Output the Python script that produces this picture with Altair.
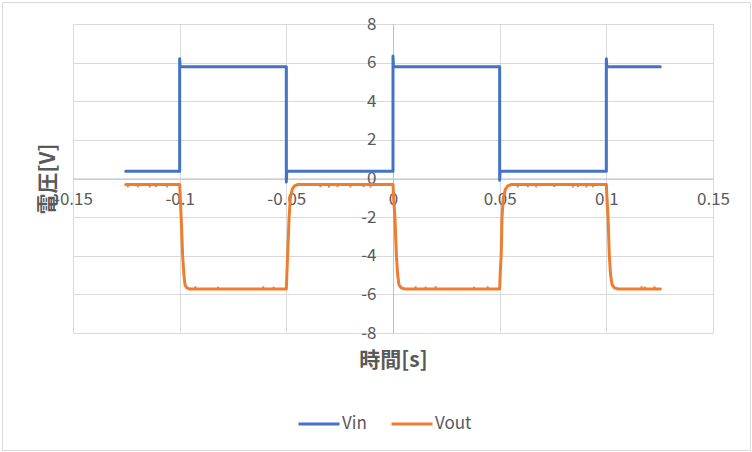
import altair as alt
import pandas as pd

# ---- data ----
t_in = [-0.1253, -0.1001, -0.1000, -0.1000, -0.0998, -0.0502, -0.0500, -0.0500, -0.0498,
        -0.0002, 0.0000, 0.0000, 0.0002, 0.0498, 0.0500, 0.0500, 0.0502,
        0.0998, 0.1000, 0.1000, 0.1002, 0.1253]
v_in = [0.38, 0.38, 0.38, 6.20, 5.79, 5.79, 5.79, -0.18, 0.38,
        0.38, 0.38, 6.34, 5.79, 5.79, 5.79, -0.09, 0.38,
        0.38, 0.38, 6.20, 5.79, 5.79]

t_out = [-0.1253, -0.1000, -0.0997, -0.0993, -0.0986, -0.0980, -0.0975, -0.0968, -0.0955,
         -0.0500, -0.0497, -0.0494, -0.0487, -0.0481, -0.0472, -0.0462, -0.0445,
         0.0000, 0.0003, 0.0009, 0.0016, 0.0022, 0.0028, 0.0038, 0.0055,
         0.0500, 0.0503, 0.0507, 0.0511, 0.0517, 0.0527, 0.0538, 0.0555,
         0.1000, 0.1003, 0.1008, 0.1014, 0.1020, 0.1027, 0.1038, 0.1055, 0.1253]
v_out = [-0.31, -0.31, -1.0, -2.0, -4.0, -5.0, -5.5, -5.65, -5.72,
         -5.72, -4.8, -4.0, -2.0, -1.0, -0.55, -0.38, -0.31,
         -0.31, -1.0, -2.0, -4.0, -5.0, -5.5, -5.66, -5.72,
         -5.72, -4.8, -4.0, -2.0, -1.0, -0.55, -0.38, -0.31,
         -0.31, -1.0, -2.0, -4.0, -5.0, -5.5, -5.66, -5.72, -5.72]

# small noise spikes on the Vout plateaus
dip_t = [-0.1243, -0.1196, -0.1140, -0.1112, -0.1060,
         -0.0927, -0.0820, -0.0608, -0.0560,
         -0.0340, -0.0300, -0.0260, -0.0200, -0.0138, -0.0105,
         0.0106, 0.0153, 0.0200, 0.0380, 0.0444,
         0.0585, 0.0632, 0.0671, 0.0756, 0.0843, 0.0867, 0.0906, 0.0937,
         0.1165, 0.1180, 0.1226]
dip_from = [-0.31, -0.31, -0.31, -0.31, -0.31,
            -5.72, -5.72, -5.72, -5.72,
            -0.31, -0.31, -0.31, -0.31, -0.31, -0.31,
            -5.72, -5.72, -5.72, -5.72, -5.72,
            -0.31, -0.31, -0.31, -0.31, -0.31, -0.31, -0.31, -0.31,
            -5.72, -5.72, -5.72]
dip_to = [-0.46, -0.44, -0.46, -0.45, -0.46,
          -5.58, -5.60, -5.58, -5.60,
          -0.45, -0.46, -0.44, -0.46, -0.45, -0.46,
          -5.58, -5.60, -5.58, -5.60, -5.58,
          -0.46, -0.45, -0.46, -0.44, -0.46, -0.45, -0.46, -0.45,
          -5.58, -5.60, -5.58]

series_names = ["Vin", "Vout"]
series_colors = ["#4472C4", "#ED7D31"]
x_ticks = [-0.15, -0.1, -0.05, 0, 0.05, 0.1, 0.15]
y_ticks = [-8, -6, -4, -2, 0, 2, 4, 6, 8]

rows = []
for i, (t, v) in enumerate(zip(t_in, v_in)):
    rows.append({"series": "Vin", "t": t, "v": v, "i": i})
for i, (t, v) in enumerate(zip(t_out, v_out)):
    rows.append({"series": "Vout", "t": t, "v": v, "i": i})
df = pd.DataFrame(rows)
dips = pd.DataFrame({"t": dip_t, "v1": dip_from, "v2": dip_to})

W, H = 640, 309
FONT = "Noto Sans CJK JP"
GRAY = "#595959"

x_scale = alt.Scale(domain=[-0.15, 0.15], nice=False, zero=False)
y_scale = alt.Scale(domain=[-8, 8], nice=False)

x_axis = alt.Axis(
    values=x_ticks, tickCount=len(x_ticks), labelExpr="'' + datum.value", offset=-H / 2,
    ticks=False, labelPadding=13, labelFlush=False, labelOverlap=False, labelFontSize=17,
    labelColor=GRAY, labelFont=FONT, domainColor="#BFBFBF", domainWidth=1,
    gridColor="#D9D9D9", gridWidth=1, title="時間[s]", titleFont=FONT,
    titleFontSize=21, titleFontWeight="bold", titleColor=GRAY,
    titleX=W / 2, titleY=182, titleAlign="center", titleBaseline="middle",
)
y_axis = alt.Axis(
    values=y_ticks, tickCount=len(y_ticks), labelExpr="'' + datum.value", offset=-W / 2,
    ticks=False, labelPadding=17, labelOverlap=False, labelFontSize=17, labelColor=GRAY,
    labelFont=FONT, domainColor="#BFBFBF", domainWidth=1, gridColor="#D9D9D9",
    gridWidth=1, title="電圧[V]", titleFont=FONT, titleFontSize=21,
    titleFontWeight="bold", titleColor=GRAY, titleX=-345, titleY=H / 2,
    titleAngle=270, titleAlign="center", titleBaseline="middle",
)

lines = alt.Chart(df).mark_line(strokeWidth=3, strokeCap="round", strokeJoin="round").encode(
    x=alt.X("t:Q", scale=x_scale, axis=x_axis),
    y=alt.Y("v:Q", scale=y_scale, axis=y_axis),
    color=alt.Color(
        "series:N",
        scale=alt.Scale(domain=series_names, range=series_colors),
        legend=alt.Legend(
            title=None, orient="none", direction="horizontal", legendX=224, legendY=378,
            symbolType="stroke", symbolSize=1681, symbolStrokeWidth=3,
            labelFontSize=17, labelColor=GRAY, labelFont=FONT, labelOffset=1,
            columnPadding=18,
        ),
    ),
    order=alt.Order("i:Q"),
)

spikes = alt.Chart(dips).mark_rule(strokeWidth=2, color="#ED7D31").encode(
    x=alt.X("t:Q", scale=x_scale),
    y=alt.Y("v1:Q", scale=y_scale),
    y2="v2:Q",
)

border = alt.Chart(alt.Data(values=[{}])).mark_rect(
    fillOpacity=0, stroke="#D9D9D9", strokeWidth=1
).encode(
    x=alt.value(-70.5), x2=alt.value(677.5), y=alt.value(-21.5), y2=alt.value(426.5)
)

chart = alt.layer(lines, spikes, border).properties(
    width=W, height=H,
    autosize=alt.AutoSizeParams(type="none"),
    padding={"left": 73, "top": 24, "right": 39, "bottom": 119},
    background="white",
).configure_view(stroke=None)

chart.save("out.html", embed_options={"renderer": "svg", "actions": False})
